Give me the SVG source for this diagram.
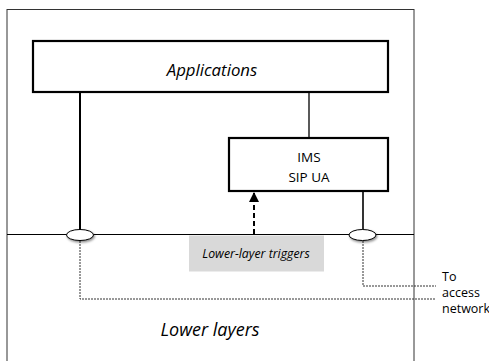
<svg xmlns="http://www.w3.org/2000/svg" width="489" height="361" viewBox="0 0 489 361">
<defs>
<style>
.t{font-family:"Open Sans","Liberation Sans",sans-serif;fill:#000}
.box{fill:#fff;stroke:#000;stroke-width:2.2}
.dot{fill:none;stroke:#333;stroke-width:1;stroke-dasharray:2,1}
</style>
<filter id="sh" x="-30%" y="-50%" width="160%" height="220%">
<feDropShadow dx="1" dy="1.5" stdDeviation="1" flood-color="#000" flood-opacity="0.45"/>
</filter>
<marker id="ah" viewBox="0 0 10 10" refX="9" refY="5" markerWidth="5" markerHeight="5" orient="auto">
<path d="M0,0 L10,5 L0,10 z" fill="#000"/>
</marker>
</defs>
<rect width="489" height="361" fill="#fff"/>
<rect id="frame" x="7" y="9.5" width="407" height="360" fill="none" stroke="#333" stroke-width="1"/>
<line x1="7" y1="234.5" x2="414" y2="234.5" stroke="#000" stroke-width="1"/>
<g id="connectors">
<line x1="80" y1="92" x2="80" y2="230" stroke="#000" stroke-width="2"/>
<line x1="309" y1="92" x2="309" y2="138" stroke="#000" stroke-width="1.3"/>
<line x1="363" y1="191" x2="363" y2="230" stroke="#000" stroke-width="1.6"/>
<line x1="254" y1="234" x2="254" y2="193" stroke="#000" stroke-width="2" stroke-dasharray="5,3" marker-end="url(#ah)"/>
<polyline class="dot" points="80,241 80,299 436,299"/>
<polyline class="dot" points="363,241 363,286 436,286"/>
</g>
<g id="applications">
<rect class="box" x="33" y="41" width="355" height="51"/>
<text class="t" x="212" y="76" font-size="16.8" font-style="italic" text-anchor="middle">Applications</text>
</g>
<g id="ims">
<rect class="box" x="229" y="138" width="159" height="53"/>
<text class="t" x="309" y="162" font-size="13.5" text-anchor="middle">IMS</text>
<text class="t" x="309" y="182" font-size="13.5" text-anchor="middle">SIP UA</text>
</g>
<g id="sap-left">
<ellipse cx="80" cy="235" rx="13.5" ry="5.5" fill="#fff" stroke="#000" stroke-width="1" filter="url(#sh)"/>
</g>
<g id="sap-right">
<ellipse cx="362.5" cy="235" rx="13.5" ry="5.5" fill="#fff" stroke="#000" stroke-width="1" filter="url(#sh)"/>
</g>
<g id="triggers">
<rect x="189" y="235.5" width="135" height="36" fill="#d9d9d9"/>
<text class="t" x="256" y="258" font-size="12.3" font-style="italic" text-anchor="middle">Lower-layer triggers</text>
</g>
<g id="access">
<text class="t" x="442" y="281" font-size="12.5">To</text>
<text class="t" x="442" y="297" font-size="12.5">access</text>
<text class="t" x="442" y="313" font-size="12.5">network</text>
</g>
<g id="lower">
<text class="t" x="210" y="336" font-size="18" font-style="italic" text-anchor="middle">Lower layers</text>
</g>
</svg>
